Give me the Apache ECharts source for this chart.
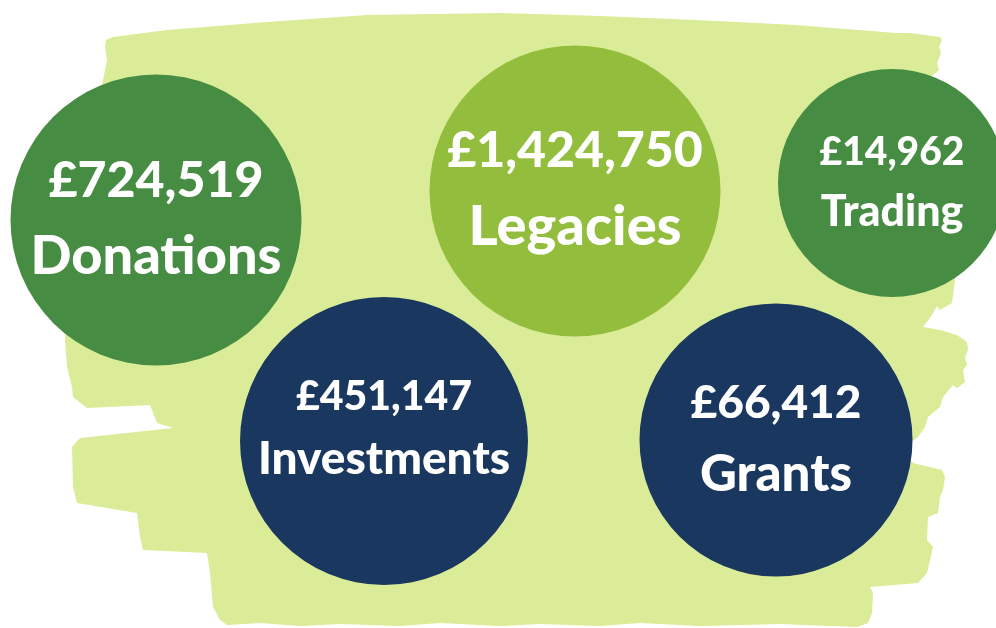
<!DOCTYPE html>
<html>
<head>
<meta charset="utf-8">
<script src="https://cdn.jsdelivr.net/npm/echarts@6/dist/echarts.min.js"></script>
<style>
html, body { margin: 0; padding: 0; background: #ffffff; }
#main { width: 996px; height: 628px; }
</style>
</head>
<body>
<div id="main"></div>
<script>
// income sources and amounts (GBP)
var categories = ['Donations', 'Legacies', 'Trading', 'Investments', 'Grants'];
var amounts = [724519, 1424750, 14962, 451147, 66412];

// bubble layout (pixel centres / diameters), not data
var centreX = [156, 575, 892, 384, 776];
var centreY = [220, 191, 183, 441, 440];
var diameters = [291, 291, 228, 288, 273];
var colours = ['#478c43', '#93be3d', '#478c43', '#1a3760', '#1a3760'];
var valueFont = [50, 50, 39, 41, 46];
var nameFont = [54, 56, 43, 46, 51];
var lineGap = [76, 76, 60, 62, 72];
var shiftY = [-1, -2, -1, -13, -1];

function money(n) {
    return '£' + String(n).replace(/\B(?=(\d{3})+(?!\d))/g, ',');
}

// brush stroke behind the bubbles
var brush = [[106,40],[113,37],[167,30],[267,22],[367,15],[500,13],[600,16],[696,20],[796,25],[896,33],[910,33],[940,37],[942,40],[939,47],[941,53],[937,63],[939,70],[932,76],
    [960,150],[955,280],[952,303],[940,310],[937,306],[932,315],[923,327],[940,330],[957,335],[967,342],[968,350],[965,357],[967,365],[963,370],[965,382],[957,388],[953,385],[943,397],[940,407],[928,417],[925,427],[918,437],
    [900,450],[913,463],[942,470],[945,477],[943,490],[940,497],[938,513],[928,517],[927,540],[933,547],[930,560],[927,573],[918,583],[870,587],[873,593],[872,613],[868,623],[857,627],
    [780,624],[700,626],[640,623],[600,626],[540,624],[500,626],[440,623],[400,626],[340,624],[300,626],[260,623],[227,625],[220,620],[213,607],[210,573],[207,553],[143,550],[140,537],[137,513],[77,503],[73,487],[72,447],[80,438],[173,428],[157,423],[150,405],[87,408],[73,397],[72,387],[67,367],[65,340],
    [80,200],[103,80],[107,60],[105,47]];

var items = [];
for (var i = 0; i < categories.length; i++) {
    items.push({
        value: [centreX[i], centreY[i], amounts[i], categories[i]],
        symbolSize: diameters[i],
        itemStyle: { color: colours[i], opacity: 1 },
        label: {
            offset: [0, shiftY[i]],
            rich: {
                v: { fontSize: valueFont[i], lineHeight: lineGap[i], fontWeight: 900, color: '#ffffff', fontFamily: 'Lato' },
                n: { fontSize: nameFont[i], lineHeight: lineGap[i], fontWeight: 900, color: '#ffffff', fontFamily: 'Lato' }
            }
        }
    });
}

var myChart = echarts.init(document.getElementById('main'));
var option = {
    animation: false,
    backgroundColor: '#ffffff',
    grid: { left: 0, right: 0, top: 0, bottom: 0 },
    xAxis: { type: 'value', min: 0, max: 996, show: false },
    yAxis: { type: 'value', min: 0, max: 628, inverse: true, show: false },
    graphic: [{
        type: 'polygon',
        z: -10,
        shape: { points: brush },
        style: { fill: '#daec98' }
    }],
    series: [{
        type: 'scatter',
        symbol: 'circle',
        data: items,
        label: {
            show: true,
            position: 'inside',
            align: 'center',
            verticalAlign: 'middle',
            opacity: 1,
            formatter: function (p) {
                return '{v|' + money(p.value[2]) + '}\n{n|' + p.value[3] + '}';
            }
        },
        emphasis: { disabled: true }
    }]
};
myChart.setOption(option);
</script>
</body>
</html>
